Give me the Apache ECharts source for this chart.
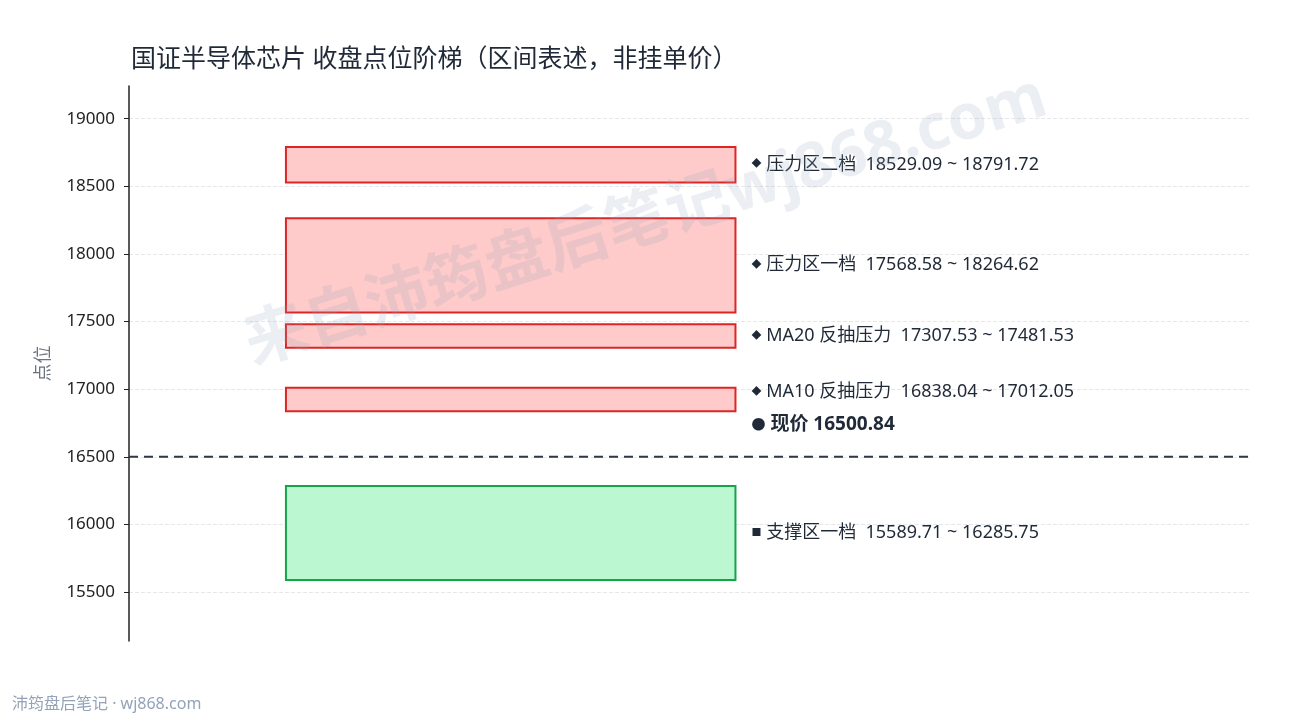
<!DOCTYPE html>
<html>
<head>
<meta charset="utf-8">
<script src="https://cdn.jsdelivr.net/npm/echarts@6/dist/echarts.min.js"></script>
<style>
  html, body { margin: 0; padding: 0; background: #fff; }
  #chart { width: 1290px; height: 720px; }
</style>
</head>
<body>
<div id="chart"></div>
<script>
// 区间数据
const zoneNames = ['压力区二档', '压力区一档', 'MA20 反抽压力', 'MA10 反抽压力', '支撑区一档'];
const zoneLow = [18529.09, 17568.58, 17307.53, 16838.04, 15589.71];
const zoneHigh = [18791.72, 18264.62, 17481.53, 17012.05, 16285.75];
const zoneKind = ['resist', 'resist', 'resist', 'resist', 'support'];
const currentPrice = 16500.84;
const yTicks = [15500, 16000, 16500, 17000, 17500, 18000, 18500, 19000];

const FONT = '"Noto Sans", "Noto Sans CJK SC", sans-serif';
const PAD = 450;
const yMin = Math.min(...zoneLow) - PAD;
const yMax = Math.max(...zoneHigh) + PAD;

const styles = {
  resist: { fill: '#fecaca', stroke: '#dc2626', mark: '◆' },
  support: { fill: '#bbf7d0', stroke: '#16a34a', mark: '■' }
};

const chart = echarts.init(document.getElementById('chart'));

function priceLabelY(api) {
  return api.coord([0, currentPrice])[1] - 32;
}

function renderZone(params, api) {
  const i = api.value(2);
  const kind = zoneKind[i];
  const st = styles[kind];
  const p0 = api.coord([0.14, api.value(1)]);
  const p1 = api.coord([0.541, api.value(0)]);
  let ty = (p0[1] + p1[1]) / 2;
  if (kind === 'resist') ty = Math.min(ty, priceLabelY(api) - 33);
  return {
    type: 'group',
    children: [
      {
        type: 'rect',
        shape: { x: p0[0], y: p0[1], width: p1[0] - p0[0], height: p1[1] - p0[1] },
        style: { fill: st.fill, stroke: st.stroke, lineWidth: 2 }
      },
      {
        type: 'text',
        x: p1[0] + 16,
        y: ty,
        style: {
          text: '{m|' + st.mark + '} ' + zoneNames[i] + '  ' +
            zoneLow[i].toFixed(2) + ' ~ ' + zoneHigh[i].toFixed(2),
          fill: '#1f2937',
          font: '18px ' + FONT,
          verticalAlign: 'middle',
          rich: { m: { fontSize: 10, fill: '#1f2937', fontFamily: FONT } }
        }
      }
    ]
  };
}

function renderPrice(params, api) {
  const cs = params.coordSys;
  const y = api.coord([0, api.value(0)])[1];
  const xr = api.coord([0.541, 0])[0];
  return {
    type: 'group',
    children: [
      {
        type: 'line',
        shape: { x1: cs.x, y1: y, x2: cs.x + cs.width, y2: y },
        style: { stroke: '#2d3748', lineWidth: 2, lineDash: [9, 6] }
      },
      {
        type: 'text',
        x: xr + 16,
        y: priceLabelY(api),
        style: {
          text: '{m|●} 现价 ' + currentPrice.toFixed(2),
          fill: '#1f2937',
          font: 'bold 19px ' + FONT,
          verticalAlign: 'middle',
          rich: { m: { fontSize: 14, fill: '#1f2937', fontFamily: FONT } }
        }
      }
    ]
  };
}

chart.setOption({
  backgroundColor: '#fff',
  animation: false,
  title: {
    text: '国证半导体芯片 收盘点位阶梯（区间表述，非挂单价）',
    left: 126,
    top: 42,
    textStyle: { fontFamily: FONT, fontSize: 25, fontWeight: 'normal', color: '#1f2937' }
  },
  graphic: [
    {
      type: 'text',
      x: 646,
      y: 222,
      rotation: 17.5 * Math.PI / 180,
      z: 100,
      style: {
        text: '来自沛筠盘后笔记wj868.com',
        font: 'bold 63px ' + FONT,
        fill: 'rgba(148,163,184,0.19)',
        align: 'center',
        verticalAlign: 'middle'
      }
    },
    {
      type: 'text',
      left: 12,
      top: 696,
      style: {
        text: '沛筠盘后笔记 · wj868.com',
        font: '16px ' + FONT,
        fill: '#94a3b8'
      }
    }
  ],
  grid: { left: 129, right: 40, top: 86, bottom: 79 },
  xAxis: { type: 'value', min: 0, max: 1, show: false },
  yAxis: {
    type: 'value',
    min: yMin,
    max: yMax,
    name: '点位',
    nameLocation: 'middle',
    nameGap: 76,
    nameTextStyle: { fontFamily: FONT, fontSize: 18, color: '#6b7280' },
    axisLine: { show: true, lineStyle: { color: '#222', width: 1.5 } },
    axisTick: { show: true, length: 5, customValues: yTicks, lineStyle: { color: '#222' } },
    axisLabel: {
      customValues: yTicks,
      formatter: v => String(v),
      fontFamily: FONT, fontSize: 17, color: '#222', margin: 14
    },
    splitLine: { show: true, lineStyle: { color: '#e5e7eb', type: 'dashed' } }
  },
  series: [
    {
      type: 'custom',
      renderItem: renderZone,
      encode: { y: [0, 1] },
      data: zoneLow.map((v, i) => [v, zoneHigh[i], i]),
      z: 3
    },
    {
      type: 'custom',
      renderItem: renderPrice,
      encode: { y: 0 },
      data: [[currentPrice]],
      z: 4
    }
  ]
});
</script>
</body>
</html>
